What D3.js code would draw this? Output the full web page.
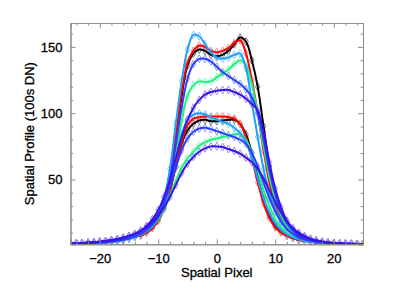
<!DOCTYPE html>
<html><head><meta charset="utf-8">
<script src="https://cdn.jsdelivr.net/npm/d3@7"></script>
<style>
html,body{margin:0;padding:0;background:#fff;}
svg{display:block;}
text{font-family:"Liberation Sans",Arial,Helvetica,sans-serif;fill:#000;}
</style></head>
<body>
<svg id="chart" width="395" height="291"></svg>
<script>
const pixels = d3.range(-25, 26);
const xTicks = [-20, -10, 0, 10, 20];
const yTicks = [50, 100, 150];

const upperLightBlue = [1.5,1.6,1.8,2.0,2.2,2.5,2.8,3.2,3.8,4.6,5.6,7.0,
  8.8,11.5,16,23,36,58,92,124,148,159,158,152,146,
  142,141,142,144,145,134,108,82,58,40,28,19,13,
  9.5,7,5.2,4.0,3.2,2.6,2.2,1.9,1.7,1.6,1.5,1.4,1.4];
const upperRed = [1.5,1.6,1.8,2.0,2.2,2.5,2.8,3.2,3.8,4.6,5.6,7.0,
  8,10.5,14.5,21,32,50,82,116,138,147,151,150,147,
  146,147,149,153,155,145,125,100,72,48,32,21,14,
  10,7.3,5.4,4.1,3.3,2.7,2.2,1.9,1.7,1.6,1.5,1.4,1.4];
const upperBlack = [1.5,1.6,1.8,2.0,2.2,2.5,2.8,3.2,3.8,4.6,5.6,7.0,
  8,10.5,14.5,21,32,50,80,113,136,145,148,147,144,
  143,144,147,152,157,154,140,120,90,60,38,24,15.5,
  10.5,7.5,5.5,4.2,3.3,2.7,2.2,1.9,1.7,1.6,1.5,1.4,1.4];
const upperBlue = [1.5,1.6,1.8,2.0,2.2,2.5,2.8,3.2,3.8,4.6,5.6,7.0,
  9,12,16,22,33,50,76,104,126,137,141,141,139,
  135,131,128,125,122,118,112,100,80,57,39,26,17,
  11.5,8,6,4.6,3.6,2.9,2.4,2.0,1.8,1.6,1.5,1.4,1.4];
const upperGreen = [1.5,1.6,1.8,2.0,2.2,2.5,2.8,3.2,3.8,4.6,5.6,7.0,
  8.5,11,15,21,31,46,68,94,113,121,124,123.5,124,
  127,130,133,137,140,136,122,100,75,52,35,23,15,
  10.5,7.5,5.6,4.3,3.4,2.7,2.2,1.9,1.7,1.6,1.5,1.4,1.4];
const upperIndigo = [1.8,2.0,2.2,2.5,2.8,3.2,3.7,4.3,5.1,6.1,7.4,9.0,
  11.5,15,20,27,37,50,66,82,95,104,110,114,116,
  117,117.5,117.5,116,114,111,107,102,86,63,43,29,19,
  13,9,6.6,5.0,3.9,3.1,2.5,2.1,1.8,1.7,1.6,1.5,1.4];
const lowerRed = [1.5,1.6,1.8,2.0,2.2,2.5,2.8,3.2,3.8,4.6,5.6,7.0,
  8,10,13.5,19,28,42,60,78,91,96,97,97.5,97.5,
  97.5,97.5,97,96,92,82,66,48,32,21,14,10,7.5,
  5.8,4.6,3.8,3.1,2.6,2.2,1.9,1.7,1.6,1.5,1.4,1.4,1.4];
const lowerBlack = [1.5,1.6,1.8,2.0,2.2,2.5,2.8,3.2,3.8,4.6,5.6,7.0,
  8,10,13.5,19,28,42,60,77,87,92,94.5,95,94,
  94,94.5,95,95,92,84,70,52,35,23,15,10.5,7.8,
  6,4.7,3.8,3.1,2.6,2.2,1.9,1.7,1.6,1.5,1.4,1.4,1.4];
const lowerLightBlue = [1.5,1.6,1.8,2.0,2.2,2.5,2.8,3.2,3.8,4.6,5.6,7.0,
  8.5,11,15,21,30,46,66,84,95,99,100,99,97,
  95,93.5,92,89,85,78,66,51,36,25,17,12,8.6,
  6.4,5,4,3.2,2.7,2.3,2.0,1.8,1.6,1.5,1.4,1.4,1.4];
const lowerBlue = [1.8,2.0,2.2,2.5,2.8,3.2,3.7,4.3,5.1,6.1,7.4,9.0,
  11,14,18,24,33,45,59,72,81,86,88.5,89,88,
  86.5,85,83.5,82,80,77,70,60,48,36,26,18,12.5,
  9,6.5,5,3.9,3.1,2.5,2.1,1.8,1.7,1.6,1.5,1.4,1.4];
const lowerGreen = [1.5,1.6,1.8,2.0,2.2,2.5,2.8,3.2,3.8,4.6,5.6,7.0,
  9,11.5,15,20,28,38,49,59,66,71,75.5,78,80,
  81,82,83,84,84,80,70,57,42,30,20,14,10,
  7.2,5.4,4.2,3.3,2.7,2.3,2.0,1.8,1.6,1.5,1.4,1.4,1.4];
const lowerIndigo = [1.8,2.0,2.2,2.5,2.8,3.2,3.7,4.3,5.1,6.1,7.4,9.0,
  11,14,18,23,29,37,46,55,62,67,71,73.5,75,
  75,74.5,73,71.5,69.5,66.5,63,58,51,42,33,25,18.5,
  13.5,10,7.5,5.5,4.2,3.3,2.7,2.2,1.9,1.7,1.6,1.5,1.4];

const seriesList = [
  {values: upperBlack, color: "#000000", marker: "#7a7a7a"},
  {values: lowerBlack, color: "#000000", marker: "#7a7a7a"},
  {values: upperRed, color: "#ff0000", marker: "#ff8a8a"},
  {values: lowerRed, color: "#ff0000", marker: "#ff8a8a"},
  {values: upperGreen, color: "#1ff07a", marker: "#8cffc0"},
  {values: lowerGreen, color: "#1ff07a", marker: "#8cffc0"},
  {values: upperLightBlue, color: "#1ea0ff", marker: "#84ccff"},
  {values: lowerLightBlue, color: "#1ea0ff", marker: "#84ccff"},
  {values: upperBlue, color: "#2a3cff", marker: "#8c9cff"},
  {values: lowerBlue, color: "#2a3cff", marker: "#8c9cff"},
  {values: upperIndigo, color: "#3a14e6", marker: "#9c88ff"},
  {values: lowerIndigo, color: "#3a14e6", marker: "#9c88ff"}
];

const svg = d3.select("#chart");
const L = 70.5, R = 363, T = 23, B = 244.3;
const x = d3.scaleLinear().domain([-25, 25]).range([L, R]);
const y = d3.scaleLinear().domain([1.2, 168]).range([B, T]);

svg.append("defs").append("clipPath").attr("id","clip")
  .append("rect").attr("x", L).attr("y", T).attr("width", R-L).attr("height", B-T);

const plot = svg.append("g").attr("clip-path","url(#clip)");
const line = d3.line().x((d,i)=>x(pixels[i])).y(d=>y(d)).curve(d3.curveCatmullRom);
const sym = d3.symbol().type(d3.symbolDiamond).size(18);

seriesList.forEach(s => {
  plot.append("g").selectAll("path").data(s.values).join("path")
    .attr("d", sym)
    .attr("transform", (d,i)=>`translate(${x(pixels[i])},${y(d)})`)
    .attr("fill","none").attr("stroke", s.marker).attr("stroke-width", 1);
});
seriesList.forEach(s => {
  plot.append("path").datum(s.values).attr("d", line)
    .attr("fill","none").attr("stroke", s.color).attr("stroke-width", 2);
});

const axisColor = "#8c8c8c";
const xMinor = d3.range(-24, 25, 2).filter(v => v % 10 !== 0);
const yMinor = d3.range(10, 168, 10).filter(v => v % 50 !== 0);

svg.append("g").attr("transform", `translate(0,${B})`)
  .call(d3.axisBottom(x).tickValues(xTicks).tickSize(-5).tickPadding(9).tickFormat(d => d < 0 ? "\u2212" + Math.abs(d) : d));
svg.append("g").attr("transform", `translate(0,${T})`)
  .call(d3.axisTop(x).tickValues(xTicks).tickSize(-5).tickFormat(""));
svg.append("g").attr("transform", `translate(${L},0)`)
  .call(d3.axisLeft(y).tickValues(yTicks).tickSize(-5).tickPadding(8));
svg.append("g").attr("transform", `translate(${R},0)`)
  .call(d3.axisRight(y).tickValues(yTicks).tickSize(-5).tickFormat(""));

svg.append("g").attr("transform", `translate(0,${B})`)
  .call(d3.axisBottom(x).tickValues(xMinor).tickSize(-2.5).tickFormat(""));
svg.append("g").attr("transform", `translate(0,${T})`)
  .call(d3.axisTop(x).tickValues(xMinor).tickSize(-2.5).tickFormat(""));
svg.append("g").attr("transform", `translate(${L},0)`)
  .call(d3.axisLeft(y).tickValues(yMinor).tickSize(-2.5).tickFormat(""));
svg.append("g").attr("transform", `translate(${R},0)`)
  .call(d3.axisRight(y).tickValues(yMinor).tickSize(-2.5).tickFormat(""));

svg.selectAll(".domain").attr("stroke", axisColor);
svg.selectAll(".tick line").attr("stroke", axisColor);
svg.selectAll(".tick text").attr("font-size", 13).attr("fill","#000")
  .attr("stroke","#000").attr("stroke-width",0.3)
  .attr("font-family", "'Liberation Sans',Arial,sans-serif");

svg.append("text").attr("x", (L+R)/2).attr("y", 277).attr("text-anchor","middle")
  .attr("font-size", 13).attr("stroke","#000").attr("stroke-width",0.3).text("Spatial Pixel");
svg.append("text").attr("transform", `translate(34,${(T+B)/2}) rotate(-90)`)
  .attr("text-anchor","middle").attr("font-size", 13).attr("stroke","#000").attr("stroke-width",0.3)
  .text("Spatial Profile (100s DN)");
</script>
</body></html>
